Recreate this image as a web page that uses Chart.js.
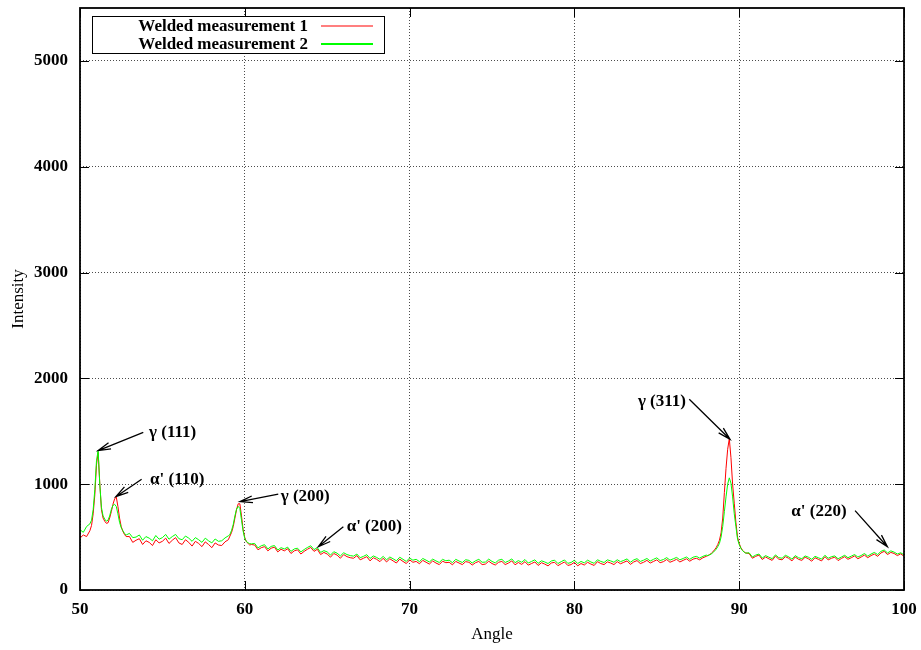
<!DOCTYPE html>
<html>
<head>
<meta charset="utf-8">
<script src="https://cdn.jsdelivr.net/npm/chart.js@4/dist/chart.umd.min.js"></script>
<style>
html,body{margin:0;padding:0;background:#fff;}
canvas{display:block;}
</style>
</head>
<body>
<canvas id="c" width="921" height="650"></canvas>
<script>
// ---- DATA ----
const angles = [
50.0, 50.2, 50.4, 50.6,
50.7, 50.8, 50.9, 51.0, 51.1, 51.2, 51.3, 51.4, 51.5, 51.6, 51.7,
51.8, 51.9, 52.0, 52.1, 52.2, 52.3, 52.4, 52.5, 52.6, 52.7, 52.8,
53.0, 53.2, 53.4, 53.6, 53.8, 54.0, 54.2, 54.4, 54.6, 54.8,
55.0, 55.2, 55.4, 55.6, 55.8, 56.0, 56.2, 56.4, 56.6, 56.8,
57.0, 57.2, 57.4, 57.6, 57.8, 58.0, 58.2, 58.4, 58.6, 58.8,
59.0,
59.1, 59.2, 59.3, 59.4, 59.5, 59.6, 59.7, 59.8, 59.9, 60.0, 60.1, 60.2, 60.3, 60.4,
60.6, 60.8, 61.0, 61.2, 61.4, 61.6, 61.8, 62.0, 62.2, 62.4,
62.6, 62.8, 63.0, 63.2, 63.4, 63.6, 63.8, 64.0, 64.2, 64.4,
64.6, 64.8, 65.0, 65.2, 65.4, 65.6, 65.8, 66.0, 66.2, 66.4,
66.6, 66.8, 67.0, 67.2, 67.4, 67.6, 67.8, 68.0, 68.2, 68.4,
68.6, 68.8, 69.0, 69.2, 69.4, 69.6, 69.8, 70.0, 70.2, 70.4,
70.6, 70.8, 71.0, 71.2, 71.4, 71.6, 71.8, 72.0, 72.2, 72.4,
72.6, 72.8, 73.0, 73.2, 73.4, 73.6, 73.8, 74.0, 74.2, 74.4,
74.6, 74.8, 75.0, 75.2, 75.4, 75.6, 75.8, 76.0, 76.2, 76.4,
76.6, 76.8, 77.0, 77.2, 77.4, 77.6, 77.8, 78.0, 78.2, 78.4,
78.6, 78.8, 79.0, 79.2, 79.4, 79.6, 79.8, 80.0, 80.2, 80.4,
80.6, 80.8, 81.0, 81.2, 81.4, 81.6, 81.8, 82.0, 82.2, 82.4,
82.6, 82.8, 83.0, 83.2, 83.4, 83.6, 83.8, 84.0, 84.2, 84.4,
84.6, 84.8, 85.0, 85.2, 85.4, 85.6, 85.8, 86.0, 86.2, 86.4,
86.6, 86.8, 87.0, 87.2, 87.4, 87.6, 87.8, 88.0,
88.1, 88.2, 88.3, 88.4, 88.5, 88.6, 88.7, 88.8, 88.9, 89.0, 89.1, 89.2,
89.3, 89.4, 89.5, 89.6, 89.7, 89.8, 89.9, 90.0, 90.1, 90.2, 90.3, 90.4,
90.6, 90.8, 91.0, 91.2, 91.4, 91.6, 91.8, 92.0, 92.2, 92.4,
92.6, 92.8, 93.0, 93.2, 93.4, 93.6, 93.8, 94.0, 94.2, 94.4,
94.6, 94.8, 95.0, 95.2, 95.4, 95.6, 95.8, 96.0, 96.2, 96.4,
96.6, 96.8, 97.0, 97.2, 97.4, 97.6, 97.8, 98.0, 98.2, 98.4,
98.6, 98.8, 99.0, 99.2, 99.4, 99.6, 99.8, 100.0
];

const measurement1 = [
490, 520, 505, 560,
610, 720, 900, 1180, 1300, 1010, 760, 680, 650, 630, 635,
680, 740, 810, 860, 880, 790, 680, 600, 555, 525, 505,
505, 450, 470, 485, 430, 465, 450, 420, 475, 445,
460, 490, 440, 470, 495, 445, 430, 475, 450, 415,
460, 440, 410, 455, 430, 400, 445, 425, 420, 455,
475,
510, 545, 600, 680, 760, 815, 815, 700, 570, 495, 455, 440, 425, 430,
425, 380, 400, 410, 370, 395, 405, 360, 385, 370,
390, 345, 370, 380, 340, 365, 385, 402, 365, 385,
335, 355, 340, 310, 345, 330, 300, 335, 315, 305,
300, 325, 285, 300, 315, 275, 305, 290, 268, 300,
265, 295, 275, 255, 292, 270, 250, 285, 262, 270,
248, 280, 262, 245, 275, 255, 240, 272, 258, 262,
238, 270, 255, 240, 268, 262, 236, 258, 270, 240,
245, 272, 250, 236, 262, 270, 240, 255, 275, 238,
260, 242, 268, 235, 250, 265, 232, 258, 245, 228,
255, 262, 230, 248, 265, 232, 240, 262, 228, 250,
236, 262, 245, 232, 268, 250, 240, 266, 255, 240,
268, 248, 262, 275, 242, 265, 278, 250, 262, 280,
255, 270, 285, 258, 268, 288, 262, 275, 290, 265,
280, 295, 272, 292, 300, 285, 305, 318,
325, 335, 345, 360, 380, 400, 430, 470, 540, 680, 920, 1150,
1330, 1430, 1250, 1000, 820, 640, 500, 440, 400, 375, 360, 350,
345, 300, 318, 330, 288, 312, 295, 280, 320, 292,
285, 315, 300, 275, 312, 290, 280, 310, 295, 272,
305, 290, 275, 315, 285, 300, 310, 278, 298, 315,
290, 305, 322, 295, 312, 330, 305, 325, 340, 318,
350, 365, 335, 355, 345, 325, 342, 318
];

const measurement2 = [
570, 545, 600, 625,
660, 760, 950, 1220, 1320, 1000, 780, 700, 670, 650, 660,
700, 760, 800, 810, 790, 720, 640, 590, 560, 535, 520,
535, 495, 500, 520, 470, 505, 490, 465, 515, 480,
495, 525, 480, 505, 525, 485, 475, 510, 490, 460,
495, 475, 450, 490, 465, 445, 482, 460, 465, 492,
512,
525, 565, 620, 700, 765, 790, 770, 660, 555, 485, 458, 446, 438, 436,
440, 398, 418, 428, 388, 412, 420, 378, 400, 388,
405, 365, 388, 395, 360, 382, 402, 418, 382, 400,
355, 372, 360, 330, 362, 348, 322, 352, 335, 325,
320, 340, 305, 318, 334, 298, 322, 308, 290, 318,
285, 312, 295, 276, 310, 290, 270, 302, 282, 290,
268, 298, 282, 265, 292, 275, 260, 290, 276, 282,
258, 290, 274, 260, 286, 280, 255, 276, 290, 262,
264, 292, 270, 256, 282, 290, 260, 274, 294, 258,
278, 262, 288, 255, 270, 285, 252, 276, 265, 250,
274, 282, 250, 268, 284, 252, 260, 282, 250, 270,
256, 282, 265, 252, 286, 270, 260, 285, 275, 262,
286, 268, 280, 294, 262, 284, 296, 270, 282, 298,
274, 290, 304, 278, 288, 306, 282, 295, 308, 285,
298, 312, 290, 310, 318, 302, 318, 330,
325, 332, 340, 352, 368, 385, 410, 440, 500, 600, 740, 880,
1000, 1060, 1010, 880, 720, 600, 480, 430, 395, 372, 358, 348,
352, 312, 330, 340, 302, 325, 310, 296, 332, 306,
300, 328, 314, 292, 325, 305, 296, 322, 310, 290,
318, 305, 292, 328, 300, 315, 322, 295, 312, 328,
305, 320, 335, 312, 326, 345, 320, 340, 355, 335,
365, 378, 350, 370, 358, 340, 352, 332
];

const seriesNames = ['Welded measurement 1', 'Welded measurement 2'];
const xTicks = [50, 60, 70, 80, 90, 100];
const yTicks = [0, 1000, 2000, 3000, 4000, 5000];

// peak annotations: label, tip (angle, intensity), arrow tail (angle, intensity), text anchor (angle, intensity)
const peakLabels = ['γ (111)', "α' (110)", 'γ (200)', "α' (200)", 'γ (311)', "α' (220)"];
const peakTipAngle = [51.1, 52.18, 59.71, 64.46, 89.44, 98.99];
const peakTipValue = [1318, 882, 835, 409, 1424, 409];
const tailAngle = [53.84, 53.74, 62.03, 65.98, 86.97, 97.03];
const tailValue = [1490, 1046, 905, 598, 1802, 750];
const textAngle = [54.19, 54.25, 62.18, 66.18, 86.77, 96.52];
const textValue = [1484, 1040, 882, 598, 1780, 740];
const textAlignRight = [false, false, false, false, true, true];

// ---- CHART ----
const FONT = "'Liberation Serif', 'Times New Roman', serif";
const colors = ['#ff0000', '#00ff00'];
const legendLineWidths = [1.2, 2];

function pts(vals) { return angles.map((a, i) => ({x: a, y: vals[i]})); }
function noPad(s) { s.paddingTop = 0; s.paddingBottom = 0; s.paddingLeft = 0; s.paddingRight = 0; }

const framePlugin = {
  id: 'frame',
  afterDatasetsDraw(chart) {
    const {ctx, chartArea: ca, scales: {x, y}} = chart;
    ctx.save();
    // inner tick marks
    ctx.strokeStyle = '#000';
    ctx.lineWidth = 1;
    ctx.beginPath();
    xTicks.forEach(v => {
      const px = Math.round(x.getPixelForValue(v)) + 0.5;
      ctx.moveTo(px, ca.bottom); ctx.lineTo(px, ca.bottom - 9);
      ctx.moveTo(px, ca.top); ctx.lineTo(px, ca.top + 9);
    });
    yTicks.forEach(v => {
      const py = Math.round(y.getPixelForValue(v)) + 0.5;
      ctx.moveTo(ca.left, py); ctx.lineTo(ca.left + 9, py);
      ctx.moveTo(ca.right, py); ctx.lineTo(ca.right - 9, py);
    });
    ctx.stroke();
    // frame
    ctx.lineWidth = 1.8;
    ctx.strokeRect(ca.left, ca.top, ca.right - ca.left, ca.bottom - ca.top);

    // annotations
    ctx.font = 'bold 17px ' + FONT;
    ctx.fillStyle = '#000';
    ctx.textBaseline = 'middle';
    ctx.lineWidth = 1.3;
    peakLabels.forEach((lab, i) => {
      const tx = x.getPixelForValue(tailAngle[i]), ty = y.getPixelForValue(tailValue[i]);
      const hx = x.getPixelForValue(peakTipAngle[i]), hy = y.getPixelForValue(peakTipValue[i]);
      ctx.beginPath();
      ctx.moveTo(tx, ty); ctx.lineTo(hx, hy);
      const ang = Math.atan2(hy - ty, hx - tx);
      const L = 13, w = 0.26;
      ctx.moveTo(hx - L * Math.cos(ang - w), hy - L * Math.sin(ang - w));
      ctx.lineTo(hx, hy);
      ctx.lineTo(hx - L * Math.cos(ang + w), hy - L * Math.sin(ang + w));
      ctx.stroke();
      ctx.textAlign = textAlignRight[i] ? 'right' : 'left';
      ctx.fillText(lab, x.getPixelForValue(textAngle[i]), y.getPixelForValue(textValue[i]));
    });

    // legend box
    const bx = ca.left + 12, by = ca.top + 8, bw = 292, bh = 37;
    ctx.fillStyle = '#fff';
    ctx.fillRect(bx, by, bw, bh);
    ctx.strokeStyle = '#000';
    ctx.lineWidth = 1;
    ctx.strokeRect(bx + 0.5, by + 0.5, bw, bh);
    ctx.textAlign = 'right';
    chart.data.datasets.forEach((ds, i) => {
      const ry = by + 10 + i * 18;
      ctx.fillStyle = '#000';
      ctx.fillText(seriesNames[i], bx + 216, ry + 0.5);
      ctx.beginPath();
      ctx.strokeStyle = colors[i];
      ctx.lineWidth = legendLineWidths[i];
      ctx.moveTo(bx + 229, ry); ctx.lineTo(bx + 281, ry);
      ctx.stroke();
    });
    ctx.restore();
  }
};

new Chart(document.getElementById('c'), {
  type: 'line',
  data: {
    datasets: [
      {label: seriesNames[0], data: pts(measurement1), borderColor: colors[0], borderWidth: 1, pointRadius: 0, tension: 0, order: 1},
      {label: seriesNames[1], data: pts(measurement2), borderColor: colors[1], borderWidth: 1, pointRadius: 0, tension: 0, order: 0}
    ]
  },
  options: {
    responsive: false,
    animation: false,
    layout: {padding: {left: 0, right: 17, top: 8, bottom: 0}},
    plugins: {legend: {display: false}, tooltip: {enabled: false}},
    scales: {
      x: {
        type: 'linear', min: 50, max: 100,
        afterFit(s) { s.height = 60; noPad(s); },
        afterBuildTicks(s) { s.ticks = xTicks.map(v => ({value: v})); },
        ticks: {padding: 9, color: '#000', font: {family: FONT, size: 17, weight: 'bold'}, maxRotation: 0, callback: v => String(v)},
        grid: {color: 'rgba(0,0,0,0.7)', lineWidth: 1, drawTicks: false},
        border: {display: false, dash: [1, 2]},
        title: {display: true, text: 'Angle', color: '#000', font: {family: FONT, size: 17}, padding: {top: 0, bottom: 5}}
      },
      y: {
        type: 'linear', min: 0, max: 5500,
        afterFit(s) { s.width = 80; noPad(s); },
        afterBuildTicks(s) { s.ticks = yTicks.map(v => ({value: v})); },
        ticks: {padding: 12, color: '#000', font: {family: FONT, size: 17, weight: 'bold'}, callback: v => String(v)},
        grid: {color: 'rgba(0,0,0,0.7)', lineWidth: 1, drawTicks: false},
        border: {display: false, dash: [1, 2]},
        title: {display: true, text: 'Intensity', color: '#000', font: {family: FONT, size: 17}, padding: {top: 8, bottom: 0}}
      }
    }
  },
  plugins: [framePlugin]
});
</script>
</body>
</html>
